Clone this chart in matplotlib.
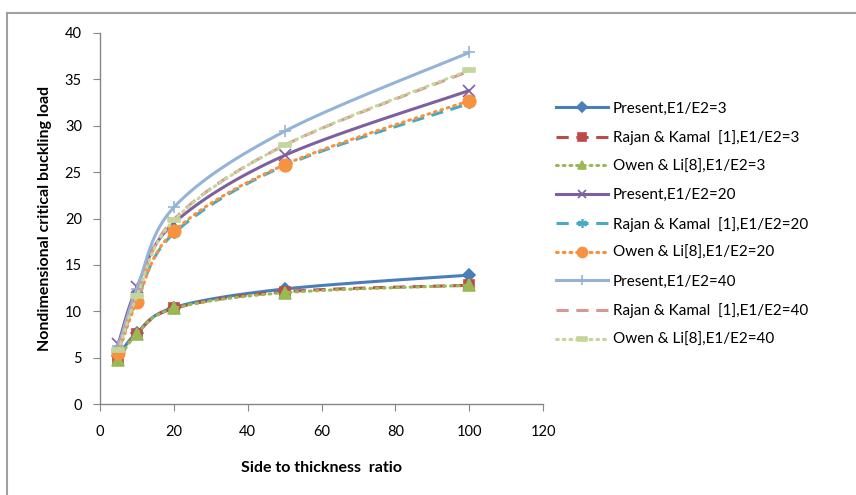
import numpy as np
import matplotlib.pyplot as plt
from matplotlib.lines import Line2D

plt.rcParams['font.family'] = ['Lato', 'DejaVu Sans']

# data
ratio = [5, 10, 20, 50, 100]

present_3 = [5.2, 7.7, 10.4, 12.4, 13.9]
rajan_3 = [4.8, 7.6, 10.3, 12.1, 12.8]
owen_3 = [4.7, 7.6, 10.3, 12.0, 12.8]

present_20 = [6.5, 12.6, 19.5, 26.8, 33.8]
rajan_20 = [5.7, 11.3, 18.4, 25.7, 32.4]
owen_20 = [5.5, 11.0, 18.6, 25.8, 32.7]

present_40 = [6.2, 12.4, 21.2, 29.4, 37.9]
rajan_40 = [5.9, 11.8, 19.9, 27.9, 35.9]
owen_40 = [5.8, 11.6, 19.8, 27.9, 36.0]

labels = ['Present,E1/E2=3', 'Rajan & Kamal  [1],E1/E2=3', 'Owen & Li[8],E1/E2=3',
          'Present,E1/E2=20', 'Rajan & Kamal  [1],E1/E2=20', 'Owen & Li[8],E1/E2=20',
          'Present,E1/E2=40', 'Rajan & Kamal  [1],E1/E2=40', 'Owen & Li[8],E1/E2=40']

XMAX, YMAX = 120, 40


def smooth(xs, ys, n=30):
    """Excel-like smoothed line (Catmull-Rom in screen proportions)."""
    sx = np.asarray(xs, float) / XMAX * 443
    sy = np.asarray(ys, float) / YMAX * 371
    p = np.column_stack([sx, sy])
    p = np.vstack([p[0], p, p[-1]])
    out = []
    t = np.linspace(0, 1, n)[:, None]
    for i in range(1, len(p) - 2):
        p0, p1, p2, p3 = p[i - 1], p[i], p[i + 1], p[i + 2]
        c1 = p1 + (p2 - p0) / 6
        c2 = p2 - (p3 - p1) / 6
        seg = ((1 - t) ** 3) * p1 + 3 * ((1 - t) ** 2) * t * c1 + 3 * (1 - t) * t ** 2 * c2 + t ** 3 * p2
        out.append(seg)
    out = np.vstack(out)
    return out[:, 0] / 443 * XMAX, out[:, 1] / 371 * YMAX


dash_bar = [(-1, -0.35), (1, -0.35), (1, 0.35), (-1, 0.35), (-1, -0.35)]
DOT = (0, (0.6, 1.6))
DASH = (0, (4, 2.5))

series = [
    (present_3, '#4A7EBB', '-', 'D', 6),
    (rajan_3, '#BE4B48', DASH, 's', 7),
    (owen_3, '#98B954', DOT, '^', 8),
    (present_20, '#7D60A0', '-', 'x', 8),
    (rajan_20, '#46AAC5', DASH, (6, 2, 0), 8),
    (owen_20, '#F69240', DOT, 'o', 9),
    (present_40, '#95B3D7', '-', '+', 9),
    (rajan_40, '#D99694', DASH, None, 0),
    (owen_40, '#C3D69B', DOT, dash_bar, 9),
]

fig = plt.figure(figsize=(8.56, 4.95), dpi=100)
ax = fig.add_axes([100 / 856, 1 - 404 / 495, 443 / 856, 371 / 495])

handles = []
for (vals, color, ls, mk, ms), lab in zip(series, labels):
    xs, ys = smooth(ratio, vals)
    cap = 'round' if ls == DOT else 'butt'
    ax.plot(xs, ys, color=color, lw=2.2, ls=ls, dash_capstyle=cap, solid_capstyle='round')
    if mk is not None:
        ax.plot(ratio, vals, ls='none', marker=mk, ms=ms, color=color,
                mec=color, mfc=color, mew=1.2)
    handles.append(Line2D([], [], color=color, lw=2.2, ls=ls, dash_capstyle=cap,
                          marker=mk, ms=ms, mec=color, mfc=color, mew=1.2))

ax.set_xlim(0, XMAX)
ax.set_ylim(0, YMAX)
ax.set_xticks(np.arange(0, 121, 20))
ax.set_yticks(np.arange(0, 41, 5))
for s in ['top', 'right']:
    ax.spines[s].set_visible(False)
for s in ['left', 'bottom']:
    ax.spines[s].set_color('#868686')
    ax.spines[s].set_linewidth(1)
ax.tick_params(axis='both', colors='#868686', labelcolor='black', labelsize=10.5,
               length=5, direction='out')
ax.tick_params(axis='x', pad=10)
ax.tick_params(axis='y', pad=8)

ax.set_xlabel('Side to thickness  ratio', fontsize=11.5, fontweight='bold', labelpad=16)
ax.set_ylabel('Nondimensional critical buckling load', fontsize=11.5, fontweight='bold',
              labelpad=9)

fig.legend(handles=handles, labels=labels, loc='upper left',
           bbox_to_anchor=(542 / 856, 1 - 88 / 495), frameon=False,
           fontsize=11, handlelength=3.4, handletextpad=0.35, labelspacing=0.95,
           markerscale=0.8)

# chart area border (cropped on the right and bottom)
fig.add_artist(Line2D([7 / 856, 1], [1 - 13 / 495] * 2, color='#A0A0A0', lw=1.5))
fig.add_artist(Line2D([7 / 856] * 2, [0, 1 - 13 / 495], color='#A0A0A0', lw=1.5))

fig.savefig('out.png', dpi=100)
